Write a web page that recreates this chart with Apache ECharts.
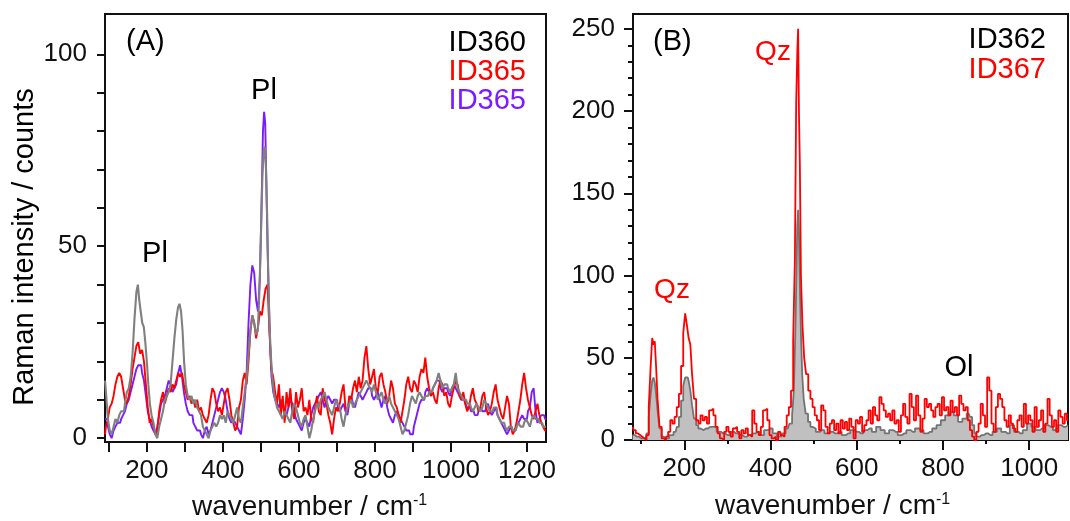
<!DOCTYPE html>
<html><head><meta charset="utf-8">
<script src="https://cdn.jsdelivr.net/npm/echarts@6/dist/echarts.min.js"></script>
<style>html,body{margin:0;padding:0;background:#fff}#c{width:1070px;height:521px}</style>
</head><body><div id="c"></div>
<script>
// ---------- Panel A data: [wavenumber, counts] ----------
const specA_ID360 = [[90,15],[95,12],[100,5],[105,2],[110,1],[115,3],[120,5],[125,4],[130,6],[135,7],[140,7],[145,9],[150,12],[155,13],[160,16],[165,22],[170,31],[175,38],[178,40],[182,36],[186,33],[190,30],[194,29],[198,25],[202,20],[206,14],[210,9],[215,6],[220,4],[225,1],[230,0],[235,3],[240,5],[245,7],[250,10],[255,11],[260,12],[265,14],[270,20],[275,26],[280,31],[284,34],[288,35],[292,33],[296,28],[300,20],[305,14],[310,11],[315,10],[320,11],[325,9],[330,10],[335,8],[340,7],[345,6],[350,3],[355,2],[360,1],[365,0],[370,2],[375,3],[380,4],[385,3],[390,4],[395,6],[400,5],[405,6],[410,4],[415,7],[420,6],[425,5],[430,4],[435,6],[440,8],[445,5],[450,4],[455,8],[460,12],[465,16],[470,22],[475,28],[480,32],[485,30],[490,27],[494,28],[498,38],[502,52],[506,68],[509,75],[512,76],[515,70],[518,58],[521,42],[524,30],[528,22],[532,16],[536,12],[540,10],[545,8],[550,7],[555,6],[560,5],[565,7],[570,6],[575,5],[580,4],[585,7],[590,9],[595,8],[600,6],[605,4],[610,3],[615,5],[620,6],[625,3],[630,0],[635,2],[640,5],[645,7],[650,9],[655,8],[660,10],[665,11],[670,12],[675,10],[680,8],[685,7],[690,6],[695,8],[700,10],[705,9],[710,8],[715,5],[720,3],[725,6],[730,8],[735,9],[740,10],[745,8],[750,9],[755,10],[760,11],[765,12],[770,13],[775,14],[780,15],[785,14],[790,13],[795,12],[800,14],[805,12],[810,10],[815,11],[820,12],[825,10],[830,9],[835,10],[840,11],[845,9],[850,8],[855,7],[860,6],[865,5],[870,3],[875,1],[880,2],[885,4],[890,6],[895,9],[900,11],[905,10],[910,9],[915,11],[920,12],[925,11],[930,10],[935,11],[940,11],[945,12],[950,12],[955,13],[960,14],[965,15],[970,17],[975,15],[980,13],[985,14],[990,14],[995,13],[1000,12],[1005,13],[1010,14],[1015,17],[1020,13],[1025,12],[1030,11],[1035,10],[1040,10],[1045,9],[1050,9],[1055,8],[1060,7],[1065,8],[1070,9],[1075,8],[1080,7],[1085,8],[1090,10],[1095,9],[1100,8],[1105,7],[1110,7],[1115,8],[1120,8],[1125,6],[1130,5],[1135,4],[1140,4],[1145,3],[1150,2],[1155,3],[1160,3],[1165,2],[1170,2],[1175,3],[1180,4],[1185,3],[1190,3],[1195,4],[1200,5],[1205,4],[1210,3],[1215,5],[1220,6],[1225,5],[1230,5],[1235,4],[1240,4],[1245,3],[1250,3]];

const specA_ID365red = [[90,1],[95,3],[100,5],[105,8],[110,9],[115,11],[120,14],[125,16],[130,17],[135,16],[140,13],[145,10],[150,9],[155,11],[160,14],[165,18],[170,21],[175,24],[180,25],[185,22],[190,23],[195,20],[200,14],[205,8],[210,4],[215,5],[220,3],[225,1],[230,2],[235,7],[240,10],[245,12],[250,9],[255,11],[260,13],[265,12],[270,14],[275,13],[280,15],[285,17],[290,16],[295,17],[300,14],[305,12],[310,10],[315,11],[320,9],[325,10],[330,8],[335,10],[340,7],[345,8],[350,6],[355,5],[360,4],[365,6],[370,10],[375,13],[380,12],[385,9],[390,7],[395,8],[400,6],[405,9],[410,12],[415,13],[420,10],[425,6],[430,4],[435,2],[440,3],[445,8],[450,10],[455,15],[460,17],[465,14],[470,20],[475,28],[480,32],[485,30],[490,26],[495,29],[500,33],[505,32],[510,36],[515,39],[520,40],[525,28],[530,18],[535,16],[540,12],[545,9],[550,14],[555,6],[560,11],[565,4],[570,12],[575,8],[580,13],[585,7],[590,5],[595,12],[600,8],[605,10],[610,13],[615,7],[620,8],[625,6],[630,10],[635,5],[640,4],[645,8],[650,11],[655,7],[660,6],[665,13],[670,10],[675,9],[680,6],[685,4],[690,1],[695,5],[700,8],[705,7],[710,9],[715,12],[720,14],[725,8],[730,7],[735,11],[740,10],[745,13],[750,15],[755,12],[760,16],[765,13],[770,15],[775,21],[780,24],[785,18],[790,14],[795,16],[800,18],[805,13],[810,12],[815,16],[820,17],[825,14],[830,12],[835,9],[840,11],[845,15],[850,13],[855,9],[860,8],[865,6],[870,4],[875,7],[880,10],[885,14],[890,16],[895,13],[900,12],[905,15],[910,14],[915,12],[920,16],[925,18],[930,17],[935,21],[940,16],[945,13],[950,11],[955,12],[960,10],[965,9],[970,13],[975,15],[980,14],[985,11],[990,12],[995,9],[1000,8],[1005,11],[1010,13],[1015,15],[1020,14],[1025,11],[1030,10],[1035,12],[1040,9],[1045,7],[1050,8],[1055,11],[1060,13],[1065,10],[1070,9],[1075,7],[1080,8],[1085,11],[1090,12],[1095,8],[1100,6],[1105,7],[1110,9],[1115,12],[1120,14],[1125,10],[1130,8],[1135,6],[1140,5],[1145,8],[1150,11],[1155,9],[1160,3],[1165,1],[1170,2],[1175,4],[1180,7],[1185,10],[1190,14],[1195,17],[1200,13],[1205,10],[1210,8],[1215,6],[1220,5],[1225,7],[1230,9],[1235,6],[1240,4],[1245,3],[1250,2]];

const specA_ID365violet = [[90,5],[95,5],[100,3],[105,1],[110,0],[115,2],[120,3],[125,4],[130,4],[135,5],[140,6],[145,7],[150,9],[155,10],[160,12],[165,14],[170,16],[175,18],[180,19],[185,19],[190,17],[195,15],[200,11],[205,7],[210,5],[215,3],[220,2],[225,1],[230,3],[235,6],[240,9],[245,10],[250,11],[255,13],[260,15],[265,14],[270,12],[275,13],[280,14],[285,17],[290,19],[295,16],[300,12],[305,9],[310,7],[315,6],[320,6],[325,4],[330,3],[335,2],[340,2],[345,1],[350,0],[355,2],[360,3],[365,1],[370,2],[375,4],[380,6],[385,8],[390,10],[395,12],[400,13],[405,12],[410,10],[415,7],[420,5],[425,4],[430,5],[435,4],[440,3],[445,2],[450,1],[455,5],[460,10],[465,17],[470,30],[475,40],[480,45],[485,43],[490,36],[495,33],[500,42],[504,62],[507,80],[510,85],[513,82],[516,66],[519,50],[522,38],[526,25],[530,16],[535,12],[540,10],[545,9],[550,8],[555,10],[560,9],[565,7],[570,6],[575,8],[580,10],[585,9],[590,7],[595,5],[600,4],[605,3],[610,2],[615,4],[620,5],[625,4],[630,3],[635,6],[640,8],[645,9],[650,10],[655,11],[660,12],[665,10],[670,8],[675,10],[680,11],[685,10],[690,9],[695,10],[700,10],[705,8],[710,7],[715,8],[720,9],[725,7],[730,6],[735,9],[740,11],[745,9],[750,8],[755,10],[760,12],[765,11],[770,10],[775,11],[780,12],[785,13],[790,13],[795,11],[800,10],[805,11],[810,12],[815,10],[820,8],[825,10],[830,11],[835,8],[840,6],[845,5],[850,4],[855,6],[860,7],[865,6],[870,5],[875,4],[880,3],[885,2],[890,2],[895,1],[900,1],[905,3],[910,5],[915,7],[920,9],[925,10],[930,10],[935,12],[940,13],[945,12],[950,11],[955,13],[960,14],[965,15],[970,15],[975,13],[980,12],[985,13],[990,13],[995,12],[1000,11],[1005,13],[1010,14],[1015,13],[1020,12],[1025,11],[1030,10],[1035,10],[1040,9],[1045,8],[1050,8],[1055,7],[1060,7],[1065,6],[1070,6],[1075,7],[1080,8],[1085,7],[1090,7],[1095,8],[1100,9],[1105,7],[1110,6],[1115,7],[1120,8],[1125,6],[1130,5],[1135,4],[1140,3],[1145,2],[1150,1],[1155,2],[1160,3],[1165,2],[1170,2],[1175,3],[1180,4],[1185,5],[1190,6],[1195,5],[1200,5],[1205,7],[1210,8],[1215,12],[1220,13],[1225,7],[1230,4],[1235,5],[1240,6],[1245,6],[1250,5]];

// ---------- Panel B data ----------
const specB_ID362 = [[80,3],[90,2],[100,1],[110,1],[115,4],[120,14],[124,28],[127,36],[130,38],[133,35],[136,28],[140,18],[145,7],[150,2],[155,1],[160,1],[170,3],[180,5],[185,8],[190,14],[195,24],[200,33],[204,38],[208,38],[212,36],[216,30],[220,21],[225,13],[230,9],[235,7],[240,6],[250,7],[260,8],[270,8],[280,5],[290,4],[300,3],[310,5],[320,4],[330,3],[340,2],[350,3],[360,4],[370,5],[380,3],[390,6],[400,7],[410,4],[420,2],[430,4],[440,7],[448,10],[452,15],[456,30],[459,65],[461,100],[463,130],[465,140],[467,125],[469,95],[472,65],[475,40],[479,25],[484,16],[490,11],[495,8],[500,7],[510,5],[520,6],[530,4],[540,5],[550,4],[560,5],[570,3],[580,4],[590,6],[600,5],[610,4],[620,6],[630,7],[640,5],[650,8],[660,6],[670,4],[680,6],[690,5],[700,3],[710,4],[720,6],[730,5],[740,7],[750,6],[760,4],[770,5],[780,7],[790,9],[800,12],[810,15],[820,17],[830,15],[840,11],[850,13],[860,16],[865,14],[870,9],[875,4],[880,2],[890,3],[900,4],[910,3],[920,5],[930,7],[940,5],[950,4],[960,9],[970,5],[980,4],[990,6],[1000,10],[1010,8],[1020,6],[1030,7],[1040,9],[1050,8],[1060,6],[1070,9],[1080,8],[1090,9]];

const specB_ID367 = [[80,8],[85,6],[90,4],[95,3],[100,2],[105,1],[110,0],[115,3],[120,20],[124,45],[127,62],[130,58],[133,60],[136,45],[140,25],[145,8],[150,1],[155,0],[160,2],[165,5],[170,12],[175,10],[180,14],[185,20],[190,28],[195,45],[200,65],[204,77],[208,70],[212,62],[216,58],[220,40],[225,25],[230,12],[235,10],[240,15],[245,12],[250,14],[255,10],[260,18],[265,19],[270,15],[275,8],[280,4],[285,1],[290,0],[295,5],[300,8],[305,5],[310,2],[315,7],[320,8],[325,5],[330,1],[335,6],[340,4],[345,7],[350,3],[355,2],[360,18],[365,10],[370,5],[375,3],[380,8],[385,18],[390,19],[395,12],[400,3],[405,1],[410,2],[415,0],[420,5],[425,3],[430,2],[435,8],[440,15],[445,20],[450,30],[455,60],[458,110],[461,205],[463,235],[465,250],[467,198],[469,168],[472,100],[476,70],[480,50],[485,40],[490,30],[495,25],[500,20],[505,15],[510,12],[515,6],[520,21],[525,18],[530,8],[535,4],[540,10],[545,12],[550,6],[555,10],[560,4],[565,12],[570,7],[575,11],[580,6],[585,13],[590,8],[595,1],[600,12],[605,10],[610,14],[615,5],[620,9],[625,12],[630,18],[635,10],[640,20],[645,15],[650,12],[655,26],[660,22],[665,18],[670,14],[675,16],[680,12],[685,18],[690,10],[695,12],[700,5],[705,15],[710,22],[715,14],[720,10],[725,28],[730,20],[735,12],[740,27],[745,15],[750,5],[755,13],[760,25],[765,20],[770,22],[775,18],[780,14],[785,20],[790,22],[795,15],[800,26],[805,18],[810,20],[815,15],[820,24],[825,17],[830,20],[835,15],[840,27],[845,22],[850,18],[855,20],[860,12],[865,6],[870,2],[875,0],[880,5],[885,10],[890,22],[895,15],[900,8],[905,38],[910,30],[915,10],[920,5],[925,20],[930,28],[935,25],[940,20],[945,12],[950,8],[955,15],[960,10],[965,7],[970,5],[975,12],[980,15],[985,8],[990,22],[995,10],[1000,15],[1005,12],[1010,5],[1015,20],[1020,8],[1025,12],[1030,18],[1035,5],[1040,10],[1045,25],[1050,15],[1055,8],[1060,12],[1065,5],[1070,18],[1075,14],[1080,10],[1085,16],[1090,12]];

// ---------- Tick values ----------
const xTicksA = [100,200,300,400,500,600,700,800,900,1000,1100,1200];
const xLabelsA = [200,400,600,800,1000,1200];
const yTicksA = [0,10,20,30,40,50,60,70,80,90,100];
const yLabelsA = [0,50,100];
const xMajorB = [200,400,600,800,1000];
const xMinorB = [100,300,500,700,900];
const yMajorB = [0,50,100,150,200,250];
const yMinorB = [10,20,30,40,60,70,80,90,110,120,130,140,160,170,180,190,210,220,230,240];

const FONT = '"Liberation Sans", Arial, sans-serif';
const INK = '#111';
const RED = '#ff0000';
const VIOLET = '#7a1cff';
const GREY = '#808080';
const plain = v => String(v);

function xAxisDef(grid, min, max, ticks, tickLen, labels, showLine) {
  return {
    type: 'value', gridIndex: grid, min: min, max: max, position: 'bottom',
    axisLine: {show: showLine, onZero: false, lineStyle: {color: INK, width: 2}},
    axisTick: {show: true, customValues: ticks, length: tickLen, lineStyle: {color: INK, width: 2}},
    axisLabel: labels ? {show: true, customValues: labels, formatter: plain, margin: 16, fontSize: 26, color: INK, fontFamily: FONT} : {show: false},
    splitLine: {show: false}
  };
}
function yAxisDef(grid, min, max, ticks, tickLen, labels, showLine) {
  return {
    type: 'value', gridIndex: grid, min: min, max: max, position: 'left',
    axisLine: {show: showLine, onZero: false, lineStyle: {color: INK, width: 2}},
    axisTick: {show: true, customValues: ticks, length: tickLen, lineStyle: {color: INK, width: 2}},
    axisLabel: labels ? {show: true, customValues: labels, formatter: plain, margin: 18, fontSize: 26, color: INK, fontFamily: FONT} : {show: false},
    splitLine: {show: false}
  };
}
function txt(x, y, text, color, size, align, extra) {
  return Object.assign({
    type: 'text', x: x, y: y, z: 100,
    style: {text: text, fill: color, fontSize: size, fontFamily: FONT,
      align: align, verticalAlign: 'middle', textAlign: align, textVerticalAlign: 'middle'}
  }, extra || {});
}
const supRich = {
  a: {fontSize: 28, fontFamily: FONT, fill: INK, color: INK},
  s: {fontSize: 16, fontFamily: FONT, fill: INK, color: INK, verticalAlign: 'top'}
};

const chart = echarts.init(document.getElementById('c'));
chart.setOption({
  animation: false,
  backgroundColor: '#fff',
  grid: [
    {left: 105, right: 524, top: 14, bottom: 79, show: true, borderColor: INK, borderWidth: 2, backgroundColor: 'transparent'},
    {left: 633, right: 2, top: 14, bottom: 81, show: true, borderColor: INK, borderWidth: 2, backgroundColor: 'transparent'}
  ],
  xAxis: [
    xAxisDef(0, 90, 1250, xTicksA, 10, xLabelsA, true),
    xAxisDef(1, 81, 1090, xMajorB, 10, xMajorB, true),
    xAxisDef(1, 81, 1090, xMinorB, 4, null, false)
  ],
  yAxis: [
    yAxisDef(0, -1, 110.5, yTicksA, 8, yLabelsA, true),
    yAxisDef(1, 0, 259, yMajorB, 9, yMajorB, true),
    yAxisDef(1, 0, 259, yMinorB, 5, null, false)
  ],
  series: [
    {type: 'line', xAxisIndex: 0, yAxisIndex: 0, data: specA_ID365violet, step: 'middle', showSymbol: false, symbol: 'none',
      lineStyle: {color: VIOLET, width: 1.9}, itemStyle: {color: VIOLET}},
    {type: 'line', xAxisIndex: 0, yAxisIndex: 0, data: specA_ID365red, step: 'middle', showSymbol: false, symbol: 'none',
      lineStyle: {color: RED, width: 1.9}, itemStyle: {color: RED}},
    {type: 'line', xAxisIndex: 0, yAxisIndex: 0, data: specA_ID360, step: 'middle', showSymbol: false, symbol: 'none',
      lineStyle: {color: GREY, width: 2.1}, itemStyle: {color: GREY}},
    {type: 'line', xAxisIndex: 1, yAxisIndex: 1, data: specB_ID362, step: 'middle', showSymbol: false, symbol: 'none',
      lineStyle: {color: '#737373', width: 1.8}, itemStyle: {color: '#737373'},
      areaStyle: {color: '#c0c0c0', opacity: 1}},
    {type: 'line', xAxisIndex: 1, yAxisIndex: 1, data: specB_ID367, step: 'middle', showSymbol: false, symbol: 'none',
      lineStyle: {color: RED, width: 1.8}, itemStyle: {color: RED}}
  ],
  graphic: [
    txt(126, 42, '(A)', '#000', 29, 'left'),
    txt(526, 43, 'ID360', '#000', 29, 'right'),
    txt(526, 72, 'ID365', RED, 29, 'right'),
    txt(526, 101, 'ID365', VIOLET, 29, 'right'),
    txt(264, 91, 'Pl', '#000', 29, 'center'),
    txt(155, 254, 'Pl', '#000', 29, 'center'),
    txt(653, 42, '(B)', '#000', 29, 'left'),
    txt(1046, 40, 'ID362', '#000', 29, 'right'),
    txt(1046, 70, 'ID367', RED, 29, 'right'),
    txt(773, 52, 'Qz', RED, 28, 'center'),
    txt(672, 290, 'Qz', RED, 28, 'center'),
    txt(959, 368, 'Ol', '#000', 29, 'center'),
    txt(25, 247, 'Raman intensity / counts', '#000', 29, 'center', {rotation: Math.PI / 2}),
    {type: 'text', x: 192, y: 507, z: 100, style: {text: '{a|wavenumber / cm}{s|-1}', rich: supRich,
      align: 'left', verticalAlign: 'middle', textAlign: 'left', textVerticalAlign: 'middle'}},
    {type: 'text', x: 715, y: 506, z: 100, style: {text: '{a|wavenumber / cm}{s|-1}', rich: supRich,
      align: 'left', verticalAlign: 'middle', textAlign: 'left', textVerticalAlign: 'middle'}}
  ]
});
</script></body></html>
